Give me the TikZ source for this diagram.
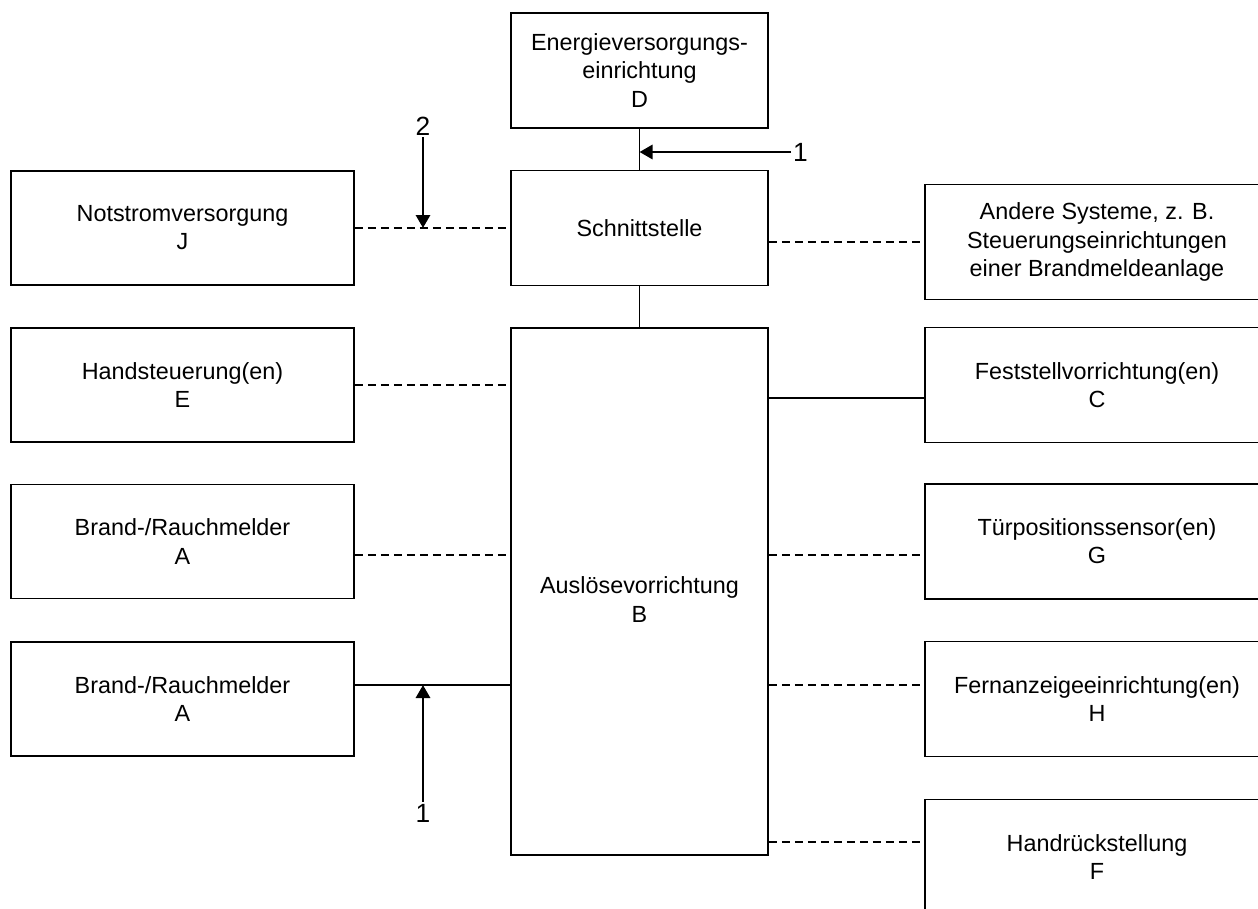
\documentclass[tikz,border=0pt]{standalone}
\usepackage{fontspec}
\setmainfont{Liberation Sans}
\usetikzlibrary{arrows.meta}
\tikzset{
  box/.style={draw,line width=1.1pt,align=center,inner sep=0pt,
    font=\fontsize{13.3}{16}\selectfont},
  lbox/.style={box,minimum width=6.86cm,minimum height=2.28cm},
  mbox/.style={box,minimum width=5.14cm,minimum height=2.3cm},
  rbox/.style={box,minimum width=6.88cm,minimum height=2.3cm},
  dline/.style={line width=0.8pt,dash pattern=on 0.16cm off 0.1cm},
  sline/.style={line width=0.8pt},
  pfeil/.style={line width=1.7pt,>={Triangle[length=2.6mm,width=2.8mm]},->},
  nr/.style={font=\fontsize{15}{18}\selectfont,inner sep=1pt}
}
\begin{document}
\begin{tikzpicture}[x=0.02cm,y=-0.02cm]
\clip (0,0) rectangle (1258,909);
% mittlere Spalte
\node[mbox] (D) at (639.5,70.5) {Energieversorgungs-\\einrichtung\\D};
\node[mbox] (S) at (639.5,228) {Schnittstelle};
\node[box,minimum width=5.14cm,minimum height=10.54cm] (B) at (639.5,591.5) {};
\node[box,draw=none] (Bt) at ([yshift=-0.16cm]B.center) {Auslösevorrichtung\\B};
% linke Spalte
\foreach \n/\y/\t in {J/228/{Notstromversorgung\\J},E/385/{Handsteuerung(en)\\E},
  A1/541.5/{Brand-/Rauchmelder\\A},A2/699/{Brand-/Rauchmelder\\A}}
\node[lbox] (\n) at (182.5,\y) {\t};
% rechte Spalte
\foreach \n/\y/\t in {R/242/{Andere Systeme, z. B.\\Steuerungseinrichtungen\\einer Brandmeldeanlage},
  C/385/{Feststellvorrichtung(en)\\C},G/541.5/{Türpositionssensor(en)\\G},
  H/699/{Fernanzeigeeinrichtung(en)\\H},F/857/{Handrückstellung\\F}}
\node[rbox] (\n) at (1097,\y) {\t};
% Verbindungen
\draw[sline] (D.south) -- (S.north);
\draw[sline] (S.south) -- (B.north);
\draw[dline] (J.east) -- (S.west);
\draw[dline] (S.east |- R.west) -- (R.west);
\draw[dline] (E.east) -- (E.east -| B.west);
\draw[dline] ([yshift=-0.27cm]A1.east) -- ([yshift=-0.27cm]A1.east -| B.west);
\draw[sline] ([yshift=0.28cm]A2.east) -- ([yshift=0.28cm]A2.east -| B.west);
\draw[sline] ([yshift=-0.26cm]C.west) -- ([yshift=-0.26cm]C.west -| B.east);
\draw[dline] ([yshift=-0.27cm]B.east |- G.west) -- ([yshift=-0.27cm]G.west);
\draw[dline] ([yshift=0.28cm]B.east |- H.west) -- ([yshift=0.28cm]H.west);
\draw[dline] ([yshift=0.3cm]B.east |- F.west) -- ([yshift=0.3cm]F.west);
% Positionsnummern
\node[nr,anchor=west] (p1a) at (791,152) {1};
\draw[pfeil] (p1a.west) -- (p1a.west -| D.south);
\node[nr] (p2) at (423,126) {2};
\draw[pfeil] (p2.south) -- (p2.south |- J.east);
\node[nr] (p1b) at (423,813) {1};
\coordinate (z1b) at (423,685);
\draw[pfeil] (p1b.north) -- (z1b);
\end{tikzpicture}
\end{document}
